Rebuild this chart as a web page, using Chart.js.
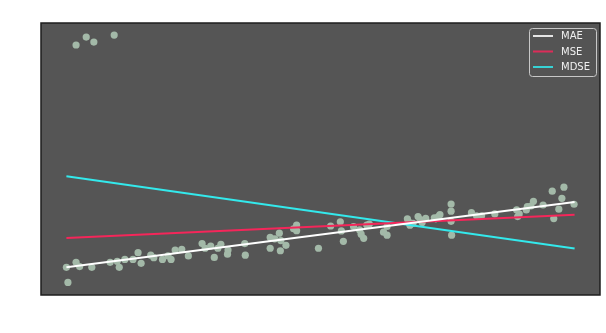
<!DOCTYPE html>
<html>
<head>
<meta charset="utf-8">
<script src="https://cdn.jsdelivr.net/npm/chart.js@4/dist/chart.umd.min.js"></script>
<style>
    html, body { margin: 0; padding: 0; background: #ffffff; }
    #plot { display: block; }
</style>
</head>
<body>
<canvas id="plot" width="606" height="333"></canvas>
<script>
// --- Data ---
const sampleX = [
    0.19, 0.39, 0.54, 0.94,
    0.00, 0.03, 0.19, 0.26, 0.50, 0.86, 1.00, 1.04, 1.15, 1.31, 1.41, 1.47,
    1.66, 1.72, 1.89, 2.00, 2.06, 2.14, 2.40, 2.67, 2.73, 2.84, 2.91, 2.98,
    3.04, 3.17, 3.18, 3.51, 3.52, 4.01, 4.01, 4.10, 4.19, 4.21, 4.22, 4.32,
    4.53, 4.53, 4.96, 5.20, 5.39, 5.41, 5.45, 5.65, 5.77, 5.80, 5.85, 5.91,
    5.96, 6.24, 6.31, 6.31, 6.71, 6.76, 6.82, 6.92, 7.00, 7.07, 7.27, 7.32,
    7.35, 7.57, 7.57, 7.57, 7.58, 7.97, 8.07, 8.17, 8.43, 8.86, 8.88, 8.91,
    9.05, 9.07, 9.14, 9.19, 9.38, 9.56, 9.59, 9.69, 9.75, 9.79, 9.99,
    6.73, 6.96, 7.24, 4.47, 2.27
];
const sampleY = [
    9.61, 9.93, 9.73, 10.01,
    0.62, 0.01, 0.82, 0.65, 0.62, 0.82, 0.86, 0.62, 0.94, 0.94, 1.21, 0.78,
    1.11, 1.01, 0.94, 1.08, 0.94, 1.32, 1.08, 1.58, 1.39, 1.48, 1.02, 1.39,
    1.55, 1.15, 1.32, 1.58, 1.11, 1.83, 1.39, 1.77, 2.00, 1.29, 1.70, 1.51,
    2.33, 2.10, 1.39, 2.29, 2.46, 2.09, 1.67, 2.27, 2.13, 1.96, 1.79, 2.33,
    2.37, 2.04, 1.92, 2.27, 2.58, 2.32, 2.40, 2.67, 2.43, 2.60, 2.58, 2.67,
    2.75, 3.18, 2.89, 2.48, 1.92, 2.83, 2.70, 2.70, 2.78, 2.94, 2.67, 2.78,
    2.94, 3.08, 3.10, 3.29, 3.14, 3.70, 2.59, 2.97, 3.41, 3.86, 3.17,
    2.47, 2.55, 2.62, 2.18, 1.35
];

// fitted lines, evaluated at both ends of the x range
const fitX = [0, 10];
const fitNames = ['MAE', 'MSE', 'MDSE'];
const fitStartY = [0.62, 1.81, 4.30];
const fitEndY = [3.26, 2.75, 1.38];
const fitColors = ['#ffffff', '#f5265a', '#33e9ec'];

// --- Plugins ---
const plotFrame = {
    id: 'plotFrame',
    beforeDraw(chart) {
        const { ctx, chartArea: a } = chart;
        ctx.save();
        ctx.fillStyle = '#555555';
        ctx.fillRect(a.left, a.top, a.right - a.left, a.bottom - a.top);
        ctx.restore();
    },
    afterDraw(chart) {
        const { ctx, chartArea: a } = chart;
        ctx.save();
        ctx.strokeStyle = '#1e1e1e';
        ctx.lineWidth = 1.5;
        ctx.strokeRect(a.left, a.top, a.right - a.left, a.bottom - a.top);
        ctx.restore();
    }
};

const innerLegend = {
    id: 'innerLegend',
    afterDraw(chart) {
        const { ctx } = chart;
        const lines = chart.data.datasets.filter(d => d.showLine);
        const x = 529, y = 28, w = 67, h = 48;
        ctx.save();
        ctx.beginPath();
        ctx.roundRect(x + 0.5, y + 0.5, w, h, 3);
        ctx.fillStyle = 'rgba(85,85,85,0.85)';
        ctx.fill();
        ctx.strokeStyle = '#c8c8c8';
        ctx.lineWidth = 1;
        ctx.stroke();
        ctx.font = '10px "DejaVu Sans"';
        ctx.textBaseline = 'middle';
        lines.forEach((d, i) => {
            const ry = 36 + i * 15.5;
            ctx.globalAlpha = 0.85;
            ctx.strokeStyle = d.borderColor;
            ctx.lineWidth = 2;
            ctx.beginPath();
            ctx.moveTo(533, ry);
            ctx.lineTo(553, ry);
            ctx.stroke();
            ctx.globalAlpha = 1;
            ctx.fillStyle = '#f0f0f0';
            ctx.fillText(d.label, 561, ry + 0.5);
        });
        ctx.restore();
    }
};

// --- Chart ---
const points = sampleX.map((x, i) => ({ x: x, y: sampleY[i] }));

const lineSets = fitNames.map((name, i) => ({
    label: name,
    data: [{ x: fitX[0], y: fitStartY[i] }, { x: fitX[1], y: fitEndY[i] }],
    showLine: true,
    borderColor: fitColors[i],
    borderWidth: 2,
    pointRadius: 0,
    order: 0
}));

new Chart(document.getElementById('plot'), {
    type: 'scatter',
    data: {
        datasets: [
            ...lineSets,
            {
                label: 'samples',
                data: points,
                pointRadius: 3.6,
                pointBorderWidth: 0,
                backgroundColor: '#a3b9a8',
                borderColor: '#a3b9a8',
                order: 1
            }
        ]
    },
    options: {
        responsive: false,
        animation: false,
        devicePixelRatio: 1,
        layout: { padding: { left: 41, right: 6, top: 23, bottom: 38 } },
        plugins: {
            legend: { display: false },
            tooltip: { enabled: false }
        },
        scales: {
            x: { type: 'linear', min: -0.5, max: 10.5, display: false },
            y: { type: 'linear', min: -0.5, max: 10.5, display: false }
        }
    },
    plugins: [plotFrame, innerLegend]
});
</script>
</body>
</html>
